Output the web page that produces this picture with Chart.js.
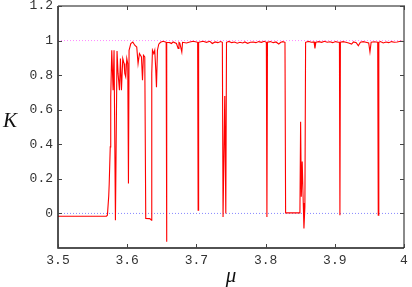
<!DOCTYPE html>
<html>
<head>
<meta charset="utf-8">
<script src="https://cdn.jsdelivr.net/npm/chart.js@4"></script>
<style>
html,body{margin:0;padding:0;background:#fff;}
#wrap{position:relative;width:412px;height:287px;}
</style>
</head>
<body>
<div id="wrap"><canvas id="c" width="412" height="287"></canvas></div>
<script>
// ---- data ----
const mu = [
3.500,3.5700,3.5714,3.5733,3.5740,3.5748,3.5755,3.5762,3.5777,3.5796,
3.5810,3.5830,3.5853,3.5868,3.5888,3.5902,3.5917,3.5936,3.5955,3.5965,
3.5979,3.5994,3.6008,3.6018,3.6027,3.6052,3.6081,3.6109,3.6138,3.6157,
3.6177,3.6206,3.6221,3.6235,3.6254,3.6268,3.6326,3.6351,3.6355,3.6365,
3.6384,3.6398,3.6413,3.6423,3.6437,3.6456,3.6481,3.6519,3.6553,3.6563,
3.6568,3.6574,3.6616,3.6640,3.6664,3.6712,3.6736,3.6748,3.6760,3.6789,
3.6800,3.6856,3.6905,3.6953,3.7001,3.7018,3.7025,3.7032,3.7049,3.7097,
3.7145,3.7194,3.7230,3.7270,3.7310,3.7350,3.7375,3.7385,3.7395,3.7410,
3.7425,3.7435,3.7470,3.7510,3.7550,3.7590,3.7630,3.7670,3.7700,3.7740,
3.7780,3.7820,3.7860,3.7900,3.7940,3.7980,3.8011,3.8019,3.8027,3.8070,
3.8110,3.8150,3.8190,3.8220,3.8250,3.8280,3.8289,3.8496,3.8506,3.8516,
3.8529,3.8544,3.8554,3.8568,3.8578,3.8620,3.8660,3.8700,3.8713,3.8726,
3.8770,3.8810,3.8850,3.8890,3.8930,3.8970,3.9010,3.9050,3.9067,3.9074,
3.9081,3.9120,3.9160,3.9200,3.9243,3.9270,3.9310,3.9340,3.9370,3.9410,
3.9450,3.9490,3.9508,3.9525,3.9570,3.9620,3.9628,3.9636,3.9660,3.9700,
3.9740,3.9780,3.9820,3.9860,3.9900,3.9950,4.000
];
const K = [
-0.016,-0.016,-0.010,0.10,0.17,0.17,0.385,0.674,0.944,0.713,
0.944,-0.039,0.94,0.81,0.713,0.896,0.713,0.896,0.867,0.81,
0.79,0.896,0.867,0.173,0.944,0.983,0.992,0.973,0.963,0.867,
0.925,0.905,0.77,0.915,0.905,-0.029,-0.030,-0.039,0.81,0.944,
0.925,0.944,0.83,0.73,0.944,0.979,0.99,0.996,0.992,0.99,
-0.164,0.99,0.988,0.983,0.992,0.983,0.954,0.99,0.986,0.934,
0.99,0.986,0.992,0.996,0.992,0.99,0.019,0.99,0.992,0.996,
0.99,0.996,0.983,0.992,0.988,0.994,0.99,-0.02,-0.02,0.68,
0.0,0.99,0.995,0.988,0.992,0.985,0.99,0.986,0.992,0.984,
0.99,0.992,0.988,0.994,0.99,0.996,0.99,-0.02,0.99,0.994,
0.988,0.992,0.980,0.99,0.994,0.99,0.003,0.003,0.53,0.096,
0.30,0.06,-0.087,0.04,0.99,0.995,0.99,0.992,0.954,0.99,
0.994,0.99,0.996,0.99,0.993,0.988,0.994,0.99,0.99,-0.01,
0.99,0.994,0.99,0.986,0.98,0.992,0.988,0.97,0.99,0.994,
0.99,0.986,0.934,0.99,0.993,0.99,-0.01,0.99,0.994,0.986,
0.992,0.988,0.994,0.99,0.992,0.996,0.994
];
const refLevels = [1, 0];
const xTicks = [3.5, 3.6, 3.7, 3.8, 3.9, 4.0];
const xTickLabels = ['3.5', '3.6', '3.7', '3.8', '3.9', '4'];
const yTicks = [0, 0.2, 0.4, 0.6, 0.8, 1.0, 1.2];
const yTickLabels = ['0', '0.2', '0.4', '0.6', '0.8', '1', '1.2'];
const xRange = [3.5, 4.0];
const yRange = [-0.2, 1.2];
const xTitle = 'μ';
const yTitle = 'K';

const frame = {
  id: 'frame',
  afterDatasetsDraw(chart) {
    const ctx = chart.ctx, a = chart.chartArea;
    const xs = chart.scales.x, ys = chart.scales.y;
    ctx.save();
    ctx.strokeStyle = '#8a8a8a';
    ctx.lineWidth = 2;
    ctx.beginPath();
    ctx.moveTo(a.left, a.top); ctx.lineTo(a.right, a.top); ctx.lineTo(a.right, a.bottom);
    ctx.stroke();
    ctx.strokeStyle = '#1a1a1a';
    ctx.lineWidth = 1.5;
    ctx.beginPath();
    ctx.moveTo(a.left, a.top); ctx.lineTo(a.left, a.bottom); ctx.lineTo(a.right, a.bottom);
    ctx.stroke();
    ctx.lineWidth = 1;
    ctx.strokeStyle = '#444';
    const L = 4;
    ctx.beginPath();
    xTicks.forEach(v => {
      const px = Math.round(xs.getPixelForValue(v)) + 0.5;
      ctx.moveTo(px, a.bottom); ctx.lineTo(px, a.bottom - L);
      ctx.moveTo(px, a.top); ctx.lineTo(px, a.top + L);
    });
    yTicks.forEach(v => {
      const py = Math.round(ys.getPixelForValue(v)) + 0.5;
      ctx.moveTo(a.left, py); ctx.lineTo(a.left + L, py);
      ctx.moveTo(a.right, py); ctx.lineTo(a.right - L, py);
    });
    ctx.stroke();
    ctx.fillStyle = '#111';
    ctx.font = 'italic 21px "Liberation Serif", "DejaVu Serif", serif';
    ctx.textAlign = 'center';
    ctx.textBaseline = 'middle';
    ctx.fillText(yTitle, 10, 121);
    ctx.fillText(xTitle, 231, 276);
    ctx.restore();
  }
};

const zeroPad = s => { s.paddingTop = 0; s.paddingBottom = 0; s.paddingLeft = 0; s.paddingRight = 0; };

new Chart(document.getElementById('c'), {
  type: 'scatter',
  data: {
    datasets: [
      {
        data: mu.map((x, i) => ({x: x, y: K[i]})),
        showLine: true,
        borderColor: '#ff0000',
        borderWidth: 1.1,
        pointRadius: 0,
        tension: 0
      },
      {
        data: [{x: xRange[0], y: refLevels[0]}, {x: xRange[1], y: refLevels[0]}],
        showLine: true,
        borderColor: '#ff88ff',
        borderWidth: 1,
        borderDash: [1, 2],
        pointRadius: 0
      },
      {
        data: [{x: xRange[0], y: refLevels[1]}, {x: xRange[1], y: refLevels[1]}],
        showLine: true,
        borderColor: '#8888ff',
        borderWidth: 1,
        borderDash: [1, 2],
        pointRadius: 0
      }
    ]
  },
  options: {
    responsive: false,
    devicePixelRatio: 1,
    animation: false,
    layout: {padding: {top: 6, right: 8, left: 0, bottom: 0}},
    plugins: {legend: {display: false}, tooltip: {enabled: false}},
    scales: {
      x: {
        type: 'linear',
        min: xRange[0], max: xRange[1],
        grid: {display: false, drawTicks: false},
        border: {display: false},
        afterBuildTicks: s => { s.ticks = xTicks.map(v => ({value: v})); },
        afterFit: s => { s.height = 39; zeroPad(s); },
        ticks: {
          autoSkip: false, maxRotation: 0, padding: 5,
          color: '#333',
          font: {family: '"Liberation Mono", "DejaVu Sans Mono", monospace', size: 13},
          callback: (v, i) => xTickLabels[i]
        }
      },
      y: {
        type: 'linear',
        min: yRange[0], max: yRange[1],
        grid: {display: false, drawTicks: false},
        border: {display: false},
        afterBuildTicks: s => { s.ticks = yTicks.map(v => ({value: v})); },
        afterFit: s => { s.width = 58; zeroPad(s); },
        ticks: {
          autoSkip: false, padding: 5,
          color: '#333',
          font: {family: '"Liberation Mono", "DejaVu Sans Mono", monospace', size: 13},
          callback: (v, i) => yTickLabels[i]
        }
      }
    }
  },
  plugins: [frame]
});
</script>
</body>
</html>
